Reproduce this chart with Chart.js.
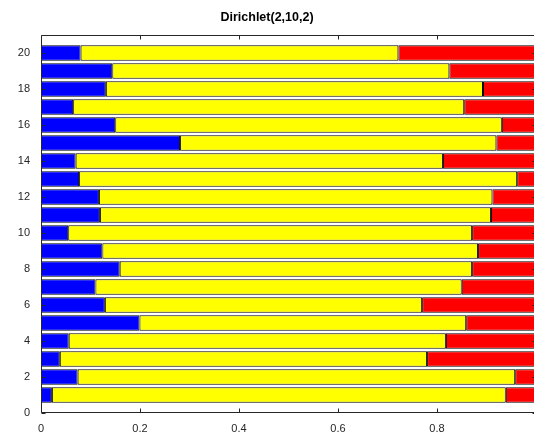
<!DOCTYPE html>
<html>
<head>
<meta charset="utf-8">
<script src="https://cdn.jsdelivr.net/npm/chart.js@4/dist/chart.umd.min.js"></script>
<style>
  html, body { margin: 0; padding: 0; background: #ffffff; overflow: hidden; }
  #wrap { width: 534px; height: 436px; }
</style>
</head>
<body>
<div id="wrap"><canvas id="c" width="534" height="436"></canvas></div>
<script>
// Row indices (draws 1..20) and the three Dirichlet(2,10,2) components per row
const rows = [1, 2, 3, 4, 5, 6, 7, 8, 9, 10, 11, 12, 13, 14, 15, 16, 17, 18, 19, 20];
const blueShare   = [0.022, 0.074, 0.038, 0.056, 0.199, 0.129, 0.110, 0.159, 0.124, 0.055,
                     0.119, 0.117, 0.077, 0.070, 0.281, 0.150, 0.065, 0.131, 0.144, 0.080];
const yellowShare = [0.917, 0.884, 0.742, 0.762, 0.660, 0.641, 0.740, 0.712, 0.759, 0.816,
                     0.790, 0.795, 0.885, 0.742, 0.639, 0.781, 0.790, 0.762, 0.681, 0.642];
const redShare    = [0.061, 0.042, 0.220, 0.182, 0.141, 0.230, 0.150, 0.129, 0.117, 0.129,
                     0.091, 0.088, 0.038, 0.188, 0.080, 0.069, 0.145, 0.107, 0.175, 0.278];
const yTickValues = [0, 2, 4, 6, 8, 10, 12, 14, 16, 18, 20];
const xTickValues = [0, 0.2, 0.4, 0.6, 0.8];

const axisColor = '#262626';
const fontFamily = '"Liberation Sans", Arial, Helvetica, sans-serif';

function series(label, shares, color) {
  return {
    label: label,
    data: rows.map((r, i) => ({ x: shares[i], y: r })),
    backgroundColor: color,
    borderColor: '#000000',
    borderWidth: 1,
    borderSkipped: false,
    barPercentage: 0.87,
    categoryPercentage: 1.0
  };
}

// Axes box with inward-pointing tick marks; the right edge of the box lies
// just past the canvas, so only the tips of its ticks show there
const frame = {
  id: 'frame',
  afterDatasetsDraw(chart) {
    const { ctx, chartArea: a, scales } = chart;
    const L = 4;
    ctx.save();
    ctx.strokeStyle = axisColor;
    ctx.lineWidth = 1;
    ctx.beginPath();
    const l = Math.round(a.left) + 0.5, r = Math.round(a.right);
    const t = Math.round(a.top) + 0.5, b = Math.round(a.bottom) - 0.5;
    ctx.moveTo(r, t); ctx.lineTo(l, t); ctx.lineTo(l, b); ctx.lineTo(r, b);
    xTickValues.forEach(v => {
      const px = Math.round(scales.x.getPixelForValue(v)) + 0.5;
      ctx.moveTo(px, b); ctx.lineTo(px, b - L);
      ctx.moveTo(px, t); ctx.lineTo(px, t + L);
    });
    yTickValues.forEach(v => {
      const py = Math.round(scales.y.getPixelForValue(v)) + 0.5;
      ctx.moveTo(l, py); ctx.lineTo(l + L, py);
      ctx.moveTo(r, py); ctx.lineTo(r - 1.5, py);
    });
    ctx.stroke();
    ctx.restore();
  }
};

new Chart(document.getElementById('c'), {
  type: 'bar',
  data: {
    datasets: [
      series('Component 1', blueShare, '#0000ff'),
      series('Component 2', yellowShare, '#ffff00'),
      series('Component 3', redShare, '#ff0000')
    ]
  },
  options: {
    indexAxis: 'y',
    responsive: false,
    animation: false,
    layout: { padding: 0 },
    plugins: {
      legend: { display: false },
      tooltip: { enabled: false },
      title: {
        display: true,
        text: 'Dirichlet(2,10,2)',
        color: '#000000',
        font: { family: fontFamily, size: 12.5, weight: 'bold' },
        padding: { top: 10, bottom: 10 }
      }
    },
    scales: {
      x: {
        type: 'linear',
        stacked: true,
        min: 0,
        max: 0.996,
        grid: { display: false, drawTicks: false },
        border: { display: false },
        afterBuildTicks(scale) { scale.ticks = xTickValues.map(v => ({ value: v })); },
        afterFit(scale) { scale.height = 23; },
        ticks: {
          color: axisColor,
          padding: 9,
          maxRotation: 0,
          font: { family: fontFamily, size: 11 },
          callback: v => String(Math.round(v * 10) / 10)
        }
      },
      y: {
        type: 'linear',
        stacked: true,
        offset: false,
        min: 0,
        max: 21,
        grid: { display: false, drawTicks: false, offset: false },
        border: { display: false },
        afterBuildTicks(scale) { scale.ticks = yTickValues.map(v => ({ value: v })); },
        afterFit(scale) { scale.width = 41; },
        ticks: {
          color: axisColor,
          padding: 11,
          font: { family: fontFamily, size: 11 },
          callback: v => String(v)
        }
      }
    }
  },
  plugins: [frame]
});
</script>
</body>
</html>
